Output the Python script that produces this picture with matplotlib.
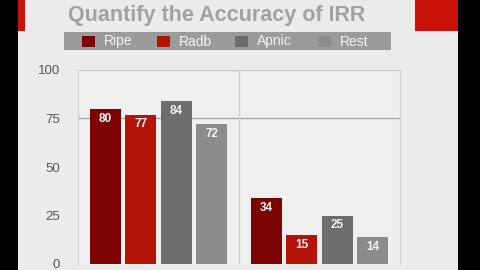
import matplotlib
matplotlib.use('Agg')
import matplotlib.pyplot as plt
from matplotlib.patches import Rectangle

groups = [0.5, 1.5]
series = ['Ripe', 'Radb', 'Apnic', 'Rest']
values = {
    'Ripe': [80, 34],
    'Radb': [77, 15],
    'Apnic': [84, 25],
    'Rest': [72, 14],
}
colors = ['#7c0504', '#b41408', '#6d6d6d', '#8c8c8c']
yticks = [0, 25, 50, 75, 100]

W, H = 480.0, 270.0
fig = plt.figure(figsize=(4.8, 2.7), dpi=100)
fig.patch.set_facecolor('#ebebeb')

def px(x0, y0, w, h, c, z=0):
    # rectangle in pixel coords (y from top)
    fig.patches.append(Rectangle((x0 / W, 1 - (y0 + h) / H), w / W, h / H,
                                 transform=fig.transFigure, facecolor=c,
                                 edgecolor='none', zorder=z))

# black side borders and red slide corners
px(0, 0, 18, 270, 'black')
px(458, 0, 22, 270, 'black')
px(18, 0, 7, 31, '#c8120a')
px(415, 0, 43, 31, '#c8120a')

# title
fig.text(217 / W, 1 - 16 / H, 'Quantify the Accuracy of IRR', ha='center', va='center',
         fontsize=15.5, fontweight='bold', color='#a2a2a2', family='Liberation Sans')

# legend band
px(64, 32, 327, 18, '#9b9b9b')
sq_x = [82, 157, 235, 318]
for name, c, sx in zip(series, colors, sq_x):
    px(sx, 36, 13, 11, c, 1)
    fig.text((sx + 22) / W, 1 - 41.5 / H, name, ha='left', va='center',
             fontsize=10, color='#f4f4f4', family='Liberation Sans')

# plot area
ax = fig.add_axes([78 / W, 6 / H, 322 / W, 194 / H])
ax.set_facecolor('#efefef')
ax.set_xlim(0, 2)
ax.set_ylim(0, 100)

bw = 0.19
offs = [-0.33, -0.11, 0.11, 0.33]
for name, c, o in zip(series, colors, offs):
    xs = [g + o for g in groups]
    bars = ax.bar(xs, values[name], bw, color=c, zorder=3)
    for b, v in zip(bars, values[name]):
        ax.text(b.get_x() + bw / 2, v - 2, str(v), ha='center', va='top',
                fontsize=8.5, fontweight='bold', color='#f4f4f4',
                family='Liberation Sans', zorder=4)

ax.axhline(75, color='#a8a8a8', lw=1, zorder=2)
ax.axhline(100, color='#c8c8c8', lw=1, zorder=2)
ax.axvline(1, color='#d0d0d0', lw=1, zorder=2)

ax.set_xticks([])
ax.set_yticks(yticks)
ax.set_yticklabels([str(t) for t in yticks], family='Liberation Sans')
ax.tick_params(axis='y', length=0, pad=13, labelsize=9.5, labelcolor='#555555')
for s in ['top', 'bottom']:
    ax.spines[s].set_visible(False)
for s in ['left', 'right']:
    ax.spines[s].set_color('#d0d0d0')

fig.savefig('out.png', dpi=100, facecolor=fig.get_facecolor())
